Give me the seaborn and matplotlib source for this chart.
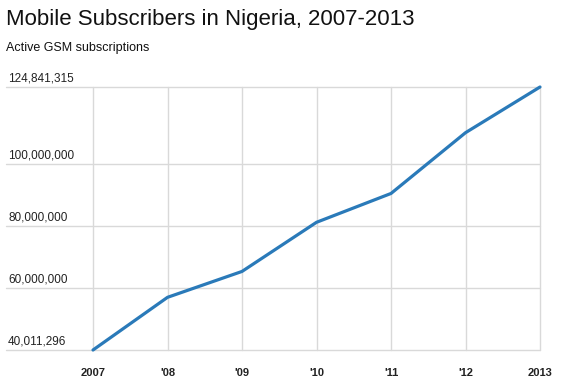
import matplotlib
matplotlib.use("Agg")
import matplotlib.pyplot as plt
import seaborn as sns
import pandas as pd
from matplotlib.ticker import FixedLocator

years = [2007, 2008, 2009, 2010, 2011, 2012, 2013]
subscribers = [40011296, 57000000, 65350000, 81200000, 90500000, 110100000, 124841315]
year_labels = ["2007", "'08", "'09", "'10", "'11", "'12", "2013"]
y_ticks = [40011296, 60000000, 80000000, 100000000, 124841315]
y_tick_labels = ["40,011,296", "60,000,000", "80,000,000", "100,000,000", "124,841,315"]

sns.set_theme(style="white")
plt.rcParams["font.family"] = ["Liberation Sans", "DejaVu Sans"]

df = pd.DataFrame({"year": years, "subs": subscribers})

fig = plt.figure(figsize=(5.7, 3.88), dpi=100)
ax = fig.add_axes([6 / 570, 1 - 350 / 388, 534 / 570, 263 / 388])

sns.lineplot(data=df, x="year", y="subs", ax=ax, color="#2a7ab9",
             linewidth=2.3, clip_on=False, zorder=3)

ax.set_xlim(2007 - 87 / 74.5, 2013)
ax.set_ylim(y_ticks[0], y_ticks[-1])

# grid lines
for y in y_ticks:
    ax.axhline(y, color="#d9d9d9", linewidth=1, zorder=1, clip_on=False)
for x in years:
    ax.axvline(x, color="#d9d9d9", linewidth=1, zorder=1, clip_on=False)

for s in ax.spines.values():
    s.set_visible(False)

ax.xaxis.set_major_locator(FixedLocator(years))
ax.set_xticklabels(year_labels, fontsize=8, fontweight="bold", color="#222222")
ax.tick_params(axis="x", length=0, pad=13)
ax.set_yticks([])
ax.set_xlabel("")
ax.set_ylabel("")

# y labels sit just above each grid line
for y, lab in zip(y_ticks, y_tick_labels):
    ax.annotate(lab, xy=(0, y), xycoords=("axes fraction", "data"),
                xytext=(1.5, 1.5), textcoords="offset points",
                ha="left", va="bottom", fontsize=8.5, color="#222222")

fig.text(6 / 570, 1 - 19 / 388, "Mobile Subscribers in Nigeria, 2007-2013",
         ha="left", va="center", fontsize=16, color="#111111")
fig.text(6 / 570, 1 - 48 / 388, "Active GSM subscriptions",
         ha="left", va="center", fontsize=9, color="#111111")

fig.savefig("out.png", dpi=100)
